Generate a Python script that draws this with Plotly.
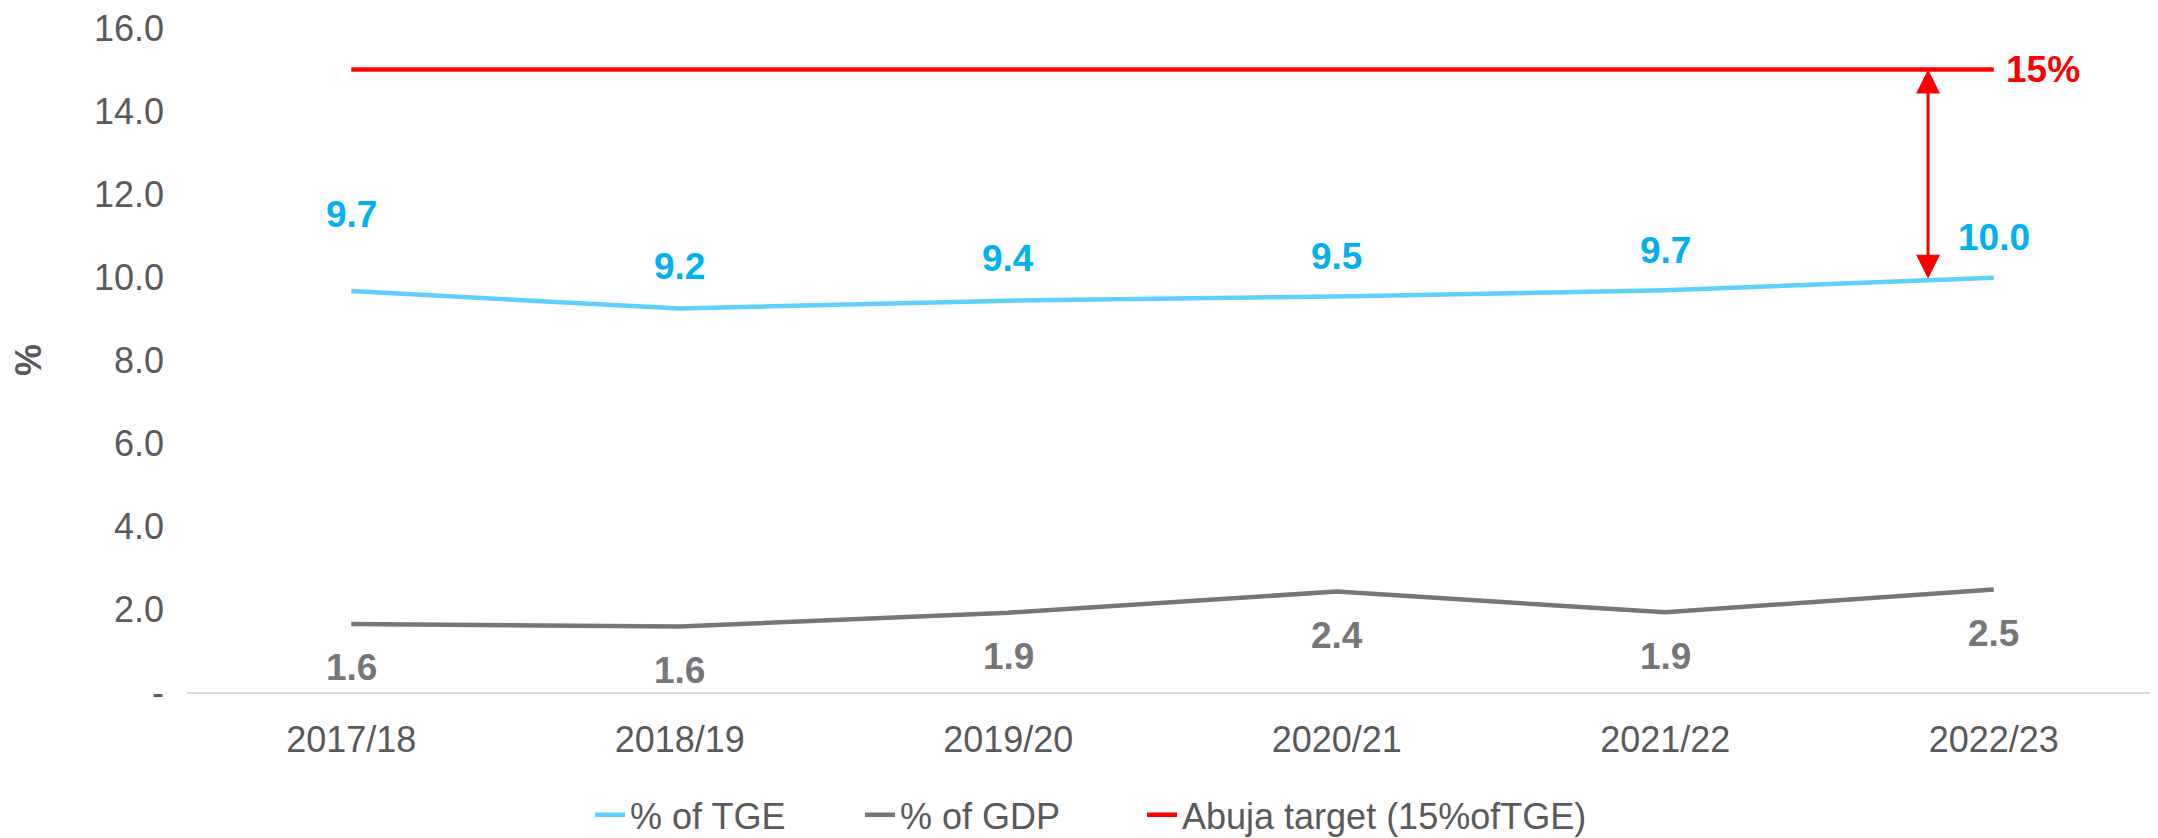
import plotly.graph_objects as go

years = ["2017/18", "2018/19", "2019/20", "2020/21", "2021/22", "2022/23"]
pct_tge = [9.66, 9.24, 9.43, 9.53, 9.68, 9.98]
pct_gdp = [1.64, 1.58, 1.91, 2.42, 1.92, 2.47]
abuja = [15, 15, 15, 15, 15, 15]
y_ticks = [0, 2, 4, 6, 8, 10, 12, 14, 16]
y_tick_text = ["-", "2.0", "4.0", "6.0", "8.0", "10.0", "12.0", "14.0", "16.0"]

FONT = "Arial, Liberation Sans, sans-serif"
TGE_LINE = "#5ED0FB"
TGE_TEXT = "#00B0F0"
GDP_LINE = "#767676"
RED = "#FF0000"

# the page body adds an 8px margin, so the figure is 8px smaller than the window
W, H = 2150, 830

fig = go.Figure()
fig.add_trace(go.Scatter(x=years, y=pct_tge, mode="lines", name="% of TGE",
                         line=dict(color=TGE_LINE, width=4.5), legend="legend"))
fig.add_trace(go.Scatter(x=years, y=pct_gdp, mode="lines", name="% of GDP",
                         line=dict(color=GDP_LINE, width=4.5), legend="legend2"))
fig.add_trace(go.Scatter(x=years, y=abuja, mode="lines", name="Abuja target (15%ofTGE)",
                         line=dict(color=RED, width=4.5), legend="legend3"))

annotations = []
# data labels (first TGE label sits higher, as in the original)
tge_shift = [77, 42, 42, 40, 40, 40]
for i, (yr, v) in enumerate(zip(years, pct_tge)):
    annotations.append(dict(x=yr, y=v, text=f"{v:.1f}", showarrow=False,
                            yshift=tge_shift[i],
                            font=dict(family=FONT, size=37, color=TGE_TEXT, weight="bold")))
for yr, v in zip(years, pct_gdp):
    annotations.append(dict(x=yr, y=v, text=f"{v:.1f}", showarrow=False,
                            yshift=-44,
                            font=dict(family=FONT, size=37, color=GDP_LINE, weight="bold")))

# 15% label at the end of the target line
annotations.append(dict(x=len(years) - 1, y=abuja[-1], text="15%", showarrow=False,
                        xanchor="left", xshift=10,
                        font=dict(family=FONT, size=37, color=RED, weight="bold")))

# double-headed gap arrow
arrow_x = 4.8
gap_low = pct_tge[4] + 0.8 * (pct_tge[5] - pct_tge[4])
annotations.append(dict(x=arrow_x, y=abuja[-1], ax=arrow_x, ay=gap_low,
                        xref="x", yref="y", axref="x", ayref="y",
                        text="", showarrow=True, arrowside="end+start",
                        arrowhead=2, arrowsize=1.6, arrowwidth=3, arrowcolor=RED,
                        standoff=0, startstandoff=0))

leg_common = dict(orientation="h", xref="container", yref="container",
                  xanchor="left", yanchor="middle", y=0.028,
                  font=dict(size=36, color="#595959"), bgcolor="rgba(0,0,0,0)")

fig.update_layout(
    width=W, height=H,
    margin=dict(l=179, r=0, t=20, b=146, autoexpand=False),
    plot_bgcolor="white", paper_bgcolor="white",
    font=dict(family=FONT, size=36, color="#595959"),
    showlegend=True,
    legend=dict(x=582 / W, **leg_common),
    legend2=dict(x=852 / W, **leg_common),
    legend3=dict(x=1134 / W, **leg_common),
    annotations=annotations,
)
fig.update_xaxes(type="category", range=[-0.5, 5.5], showgrid=False, zeroline=False,
                 showline=True, linecolor="#D9D9D9", linewidth=2, ticks="",
                 automargin=False,
                 ticklabelstandoff=15, tickfont=dict(size=36, color="#595959"))
fig.update_yaxes(range=[0, 16], tickvals=y_ticks, ticktext=y_tick_text,
                 showgrid=False, zeroline=False, showline=False, ticks="",
                 automargin=False, ticklabeloverflow="allow",
                 ticklabelstandoff=22, tickfont=dict(size=36, color="#595959"),
                 title=dict(text="<b>%</b>", standoff=52, font=dict(size=36, color="#595959")))

fig.write_html("out.html")
